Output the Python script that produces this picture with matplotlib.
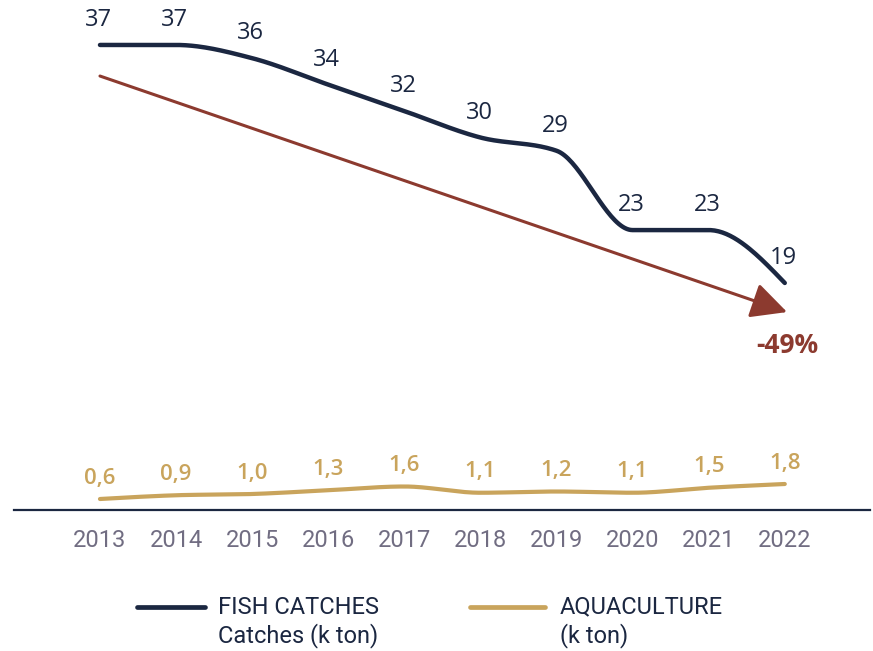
import numpy as np
import matplotlib.pyplot as plt
from matplotlib.lines import Line2D

years = [2013, 2014, 2015, 2016, 2017, 2018, 2019, 2020, 2021, 2022]
fish = [37, 37, 36, 34, 32, 30, 29, 23, 23, 19]
aqua = [0.6, 0.9, 1.0, 1.3, 1.6, 1.1, 1.2, 1.1, 1.5, 1.8]
legend_labels = [("FISH CATCHES", "Catches (k ton)"), ("AQUACULTURE", "(k ton)")]

navy = "#1B2741"
gold = "#C9A45C"
brown = "#8C3A2F"
grey = "#716D82"


def monotone(x, y, n=40):
    # d3-style monotoneX curve
    x = np.asarray(x, float)
    y = np.asarray(y, float)
    h = np.diff(x)
    s = np.diff(y) / h
    m = np.zeros_like(y)
    for i in range(1, len(y) - 1):
        p = (s[i - 1] * h[i] + s[i] * h[i - 1]) / (h[i - 1] + h[i])
        m[i] = (np.sign(s[i - 1]) + np.sign(s[i])) * min(abs(s[i - 1]), abs(s[i]), 0.5 * abs(p))
    m[0] = (3 * s[0] - m[1]) / 2
    m[-1] = (3 * s[-1] - m[-2]) / 2
    xs, ys = [], []
    for i in range(len(x) - 1):
        t = np.linspace(0, 1, n)
        h00 = 2 * t**3 - 3 * t**2 + 1
        h10 = t**3 - 2 * t**2 + t
        h01 = -2 * t**3 + 3 * t**2
        h11 = t**3 - t**2
        xs.append(x[i] + t * h[i])
        ys.append(h00 * y[i] + h10 * h[i] * m[i] + h01 * y[i + 1] + h11 * h[i] * m[i + 1])
    return np.concatenate(xs), np.concatenate(ys)


fig = plt.figure(figsize=(8.73, 6.51), dpi=100)
ax = fig.add_axes([14 / 873, 141 / 651, 856 / 873, 510 / 651])
ax2 = ax.twinx()

ax.set_xlim(2011.87, 2023.12)
ax.set_ylim(1.83, 40.40)
ax2.set_ylim(-0.28, 40.52)

fx, fy = monotone(years, fish)
ax.plot(fx, fy, color=navy, lw=3.2, solid_capstyle="round", zorder=3)
ax2_x, ax2_y = monotone(years, aqua)
ax2.plot(ax2_x, ax2_y, color=gold, lw=3.0, solid_capstyle="round", zorder=3)

for x, v in zip(years, fish):
    ax.annotate(str(v), (x, v), xytext=(-1, 18), textcoords="offset points",
                ha="center", va="center", fontsize=17, color=navy, family="Open Sans")
for x, v in zip(years, aqua):
    ax2.annotate(f"{v:.1f}".replace(".", ","), (x, v), xytext=(0, 15), textcoords="offset points",
                 ha="center", va="center", fontsize=16, color=gold, family="Open Sans",
                 fontweight="semibold")

# trend arrow
change = round((fish[-1] - fish[0]) / fish[0] * 100)
ax.annotate("", xy=(2022.03, 16.8), xytext=(2013.0, 34.65),
            arrowprops=dict(arrowstyle="-|>,head_length=1.1,head_width=0.55", color=brown,
                            lw=2.2, mutation_scale=20, shrinkA=0, shrinkB=0))
ax.annotate(f"{change}%", (2022.03, 16.8), xytext=(0, -24), textcoords="offset points",
            ha="center", va="center", fontsize=19, fontweight="bold", color=brown,
            family="Open Sans")

for a in (ax, ax2):
    for side in ("top", "right", "left"):
        a.spines[side].set_visible(False)
    a.set_yticks([])
ax2.spines["bottom"].set_visible(False)
ax.spines["bottom"].set_color(navy)
ax.spines["bottom"].set_linewidth(1.6)
ax.set_xticks(years)
ax.set_xticklabels([str(y) for y in years], color=grey, fontsize=17, family="Roboto")
ax.tick_params(axis="x", length=0, pad=14)

# legend
for (top, bottom), col, x0, w, tx in zip(legend_labels, [navy, gold], [137, 470], [68, 75], [218, 560]):
    fig.add_artist(Line2D([x0 / 873, (x0 + w) / 873], [44 / 651, 44 / 651],
                          color=col, lw=3.4, solid_capstyle="round"))
    fig.text(tx / 873, 44 / 651, top, color=navy, fontsize=17, family="Roboto",
             ha="left", va="center")
    fig.text(tx / 873, 15 / 651, bottom, color=navy, fontsize=17, family="Roboto",
             ha="left", va="center")

fig.savefig("out.png", dpi=100)
